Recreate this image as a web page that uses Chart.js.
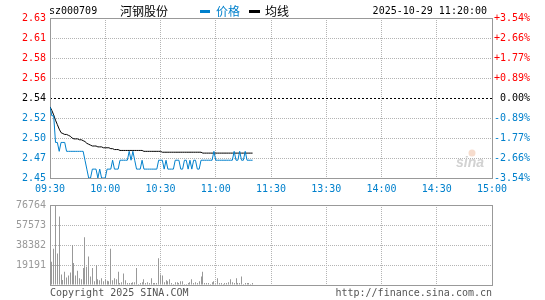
<!DOCTYPE html>
<html><head><meta charset="utf-8">
<script src="https://cdn.jsdelivr.net/npm/chart.js@4.4.0/dist/chart.umd.min.js"></script>
<style>
html,body{margin:0;padding:0;background:#fff;}
#wrap{position:relative;width:545px;height:300px;overflow:hidden;background:#fff;}
#c1{position:absolute;left:0;top:0;}
#c2{position:absolute;left:0;top:195px;}
</style></head><body>
<div id="wrap"><canvas id="c1" width="545" height="195"></canvas><canvas id="c2" width="545" height="105"></canvas></div>
<script>
const stockCode = "sz000709";
const stockName = "河钢股份";
const legendLabels = ["价格", "均线"];
const timestamp = "2025-10-29 11:20:00";
const footerLeft = "Copyright 2025 SINA.COM";
const footerRight = "http://finance.sina.com.cn";
const watermark = "sina";

const timeTickMinutes = [0, 30, 60, 90, 120, 150, 180, 210, 240];
const timeTickLabels = ["09:30", "10:00", "10:30", "11:00", "11:30", "13:30", "14:00", "14:30", "15:00"];
const priceTickValues = [2.45, 2.4725, 2.495, 2.5175, 2.54, 2.5625, 2.585, 2.6075, 2.63];
const priceTickLabels = ["2.45", "2.47", "2.50", "2.52", "2.54", "2.56", "2.58", "2.61", "2.63"];
const pctTickLabels = ["-3.54%", "-2.66%", "-1.77%", "-0.89%", " 0.00%", "+0.89%", "+1.77%", "+2.66%", "+3.54%"];
const volumeTickValues = [0, 19191, 38382, 57573, 76764];
const volumeTickLabels = ["", "19191", "38382", "57573", "76764"];

// one value per minute from 09:30 (minute 0) to 11:20 (minute 110)
const prices = [
  2.53, 2.52, 2.52, 2.49, 2.49, 2.48, 2.49, 2.49, 2.49, 2.48,
  2.48, 2.48, 2.48, 2.48, 2.48, 2.48, 2.48, 2.48, 2.48, 2.47,
  2.46, 2.45, 2.45, 2.46, 2.46, 2.46, 2.45, 2.46, 2.45, 2.45,
  2.45, 2.46, 2.46, 2.46, 2.47, 2.46, 2.46, 2.46, 2.47, 2.47,
  2.47, 2.47, 2.47, 2.48, 2.47, 2.48, 2.47, 2.46, 2.46, 2.46,
  2.47, 2.46, 2.46, 2.46, 2.46, 2.46, 2.46, 2.46, 2.46, 2.47,
  2.47, 2.47, 2.46, 2.47, 2.46, 2.46, 2.46, 2.46, 2.47, 2.47,
  2.47, 2.46, 2.46, 2.47, 2.47, 2.46, 2.47, 2.46, 2.47, 2.47,
  2.46, 2.46, 2.47, 2.47, 2.47, 2.47, 2.47, 2.47, 2.47, 2.48,
  2.47, 2.47, 2.47, 2.47, 2.47, 2.47, 2.47, 2.47, 2.47, 2.47,
  2.48, 2.47, 2.47, 2.48, 2.47, 2.47, 2.48, 2.47, 2.47, 2.47,
  2.47
];
const avgPrices = [
  2.530, 2.526, 2.521, 2.515, 2.510, 2.505, 2.501, 2.500, 2.499, 2.499,
  2.498, 2.497, 2.495, 2.494, 2.494, 2.494, 2.493, 2.493, 2.492, 2.491,
  2.489, 2.488, 2.487, 2.486, 2.486, 2.486, 2.485, 2.485, 2.485, 2.484,
  2.484, 2.484, 2.484, 2.483, 2.483, 2.482, 2.482, 2.482, 2.481, 2.481,
  2.481, 2.481, 2.481, 2.481, 2.481, 2.481, 2.481, 2.481, 2.481, 2.481,
  2.481, 2.480, 2.480, 2.480, 2.480, 2.480, 2.480, 2.480, 2.480, 2.480,
  2.480, 2.479, 2.479, 2.479, 2.479, 2.479, 2.479, 2.479, 2.479, 2.479,
  2.479, 2.479, 2.479, 2.479, 2.479, 2.479, 2.479, 2.479, 2.479, 2.479,
  2.479, 2.479, 2.479, 2.478, 2.478, 2.478, 2.478, 2.478, 2.478, 2.478,
  2.478, 2.478, 2.478, 2.478, 2.478, 2.478, 2.478, 2.478, 2.478, 2.478,
  2.478, 2.478, 2.478, 2.478, 2.478, 2.478, 2.478, 2.478, 2.478, 2.478,
  2.478
];
const volumes = [
  14600, 22200, 34700, 76764, 30200, 65800, 10000, 4900, 12800, 7300,
  9100, 11900, 38400, 21000, 9100, 13700, 6400, 5500, 16400, 45700,
  17400, 27400, 8200, 16400, 3700, 19200, 5500, 4600, 6400, 3700,
  5200, 4000, 3700, 34700, 4600, 6400, 5500, 12800, 1800, 2700,
  11000, 4600, 1800, 1800, 1800, 2700, 2700, 16400, 900, 1800,
  2700, 5500, 1800, 2700, 1800, 6400, 1800, 1800, 1800, 25600,
  10000, 9100, 2700, 4600, 3700, 5500, 1800, 900, 2700, 2700,
  1800, 3700, 3700, 900, 900, 1800, 2700, 5500, 1800, 2700,
  1800, 3700, 8200, 12800, 1800, 1800, 1800, 900, 2700, 3700,
  900, 6400, 1800, 1800, 900, 1800, 1800, 2700, 5500, 2700,
  1800, 6400, 1800, 1800, 8200, 900, 1800, 1800, 1800, 900,
  1800
];

const BLUE = '#0080cc', RED = '#ff0000', FRAME = '#999999', GRID = '#b4b4b4', VOL = '#999999';
const MONO = '"DejaVu Sans Mono", "Liberation Mono", monospace';
const CJK = '"Noto Sans CJK SC", "Noto Sans", sans-serif';

const framePlugin = {
  id: 'frame',
  beforeDatasetsDraw(chart) {
    const {ctx, chartArea: a} = chart;
    ctx.save();
    ctx.strokeStyle = FRAME; ctx.lineWidth = 1; ctx.setLineDash([]);
    ctx.strokeRect(Math.round(a.left) + 0.5, Math.round(a.top) + 0.5,
                   Math.round(a.right - a.left), Math.round(a.bottom - a.top));
    ctx.restore();
  }
};

// snap 1px volume bars to whole pixels so they stay crisp
const snapBarsPlugin = {
  id: 'snapBars',
  beforeDatasetsDraw(chart) {
    chart.getDatasetMeta(0).data.forEach(el => { el.x = Math.floor(el.x) + 0.5; });
  }
};

const headerPlugin = {
  id: 'header',
  beforeDatasetsDraw(chart) {
    const ctx = chart.ctx;
    ctx.save();
    ctx.fillStyle = '#f6dccd';
    ctx.beginPath(); ctx.arc(472, 153, 3.5, 0, Math.PI * 2); ctx.fill();
    ctx.fillStyle = '#d2d2d2';
    ctx.font = 'italic bold 14px "Liberation Sans", sans-serif';
    ctx.textAlign = 'center'; ctx.textBaseline = 'alphabetic';
    ctx.fillText(watermark, 470, 167);
    ctx.restore();
  },
  afterDraw(chart) {
    const ctx = chart.ctx;
    ctx.save();
    ctx.textBaseline = 'middle'; ctx.textAlign = 'left';
    ctx.font = '10px ' + MONO; ctx.fillStyle = '#000';
    ctx.fillText(stockCode, 49, 11);
    ctx.font = '12px ' + CJK;
    ctx.fillText(stockName, 120, 11);
    ctx.fillStyle = BLUE; ctx.fillRect(200, 10, 10, 3);
    ctx.fillText(legendLabels[0], 216, 11);
    ctx.fillStyle = '#000'; ctx.fillRect(249, 10, 11, 3);
    ctx.fillText(legendLabels[1], 265, 11);
    ctx.font = '10px ' + MONO; ctx.textAlign = 'right';
    ctx.fillText(timestamp, 487, 11);
    ctx.restore();
  }
};

const footerPlugin = {
  id: 'footer',
  afterDraw(chart) {
    const ctx = chart.ctx;
    ctx.save();
    ctx.font = '10px ' + MONO; ctx.fillStyle = '#555555'; ctx.textBaseline = 'alphabetic';
    ctx.textAlign = 'left'; ctx.fillText(footerLeft, 50, 101);
    ctx.textAlign = 'right'; ctx.fillText(footerRight, 492, 101);
    ctx.restore();
  }
};

const priceColor = (i) => i < 4 ? BLUE : (i === 4 ? '#000' : RED);
const setTicks = (vals) => (s) => { s.ticks = vals.map(v => ({value: v})); };

new Chart(document.getElementById('c1'), {
  type: 'line',
  data: {
    datasets: [
      {label: legendLabels[0], data: prices.map((p, i) => ({x: i, y: p})), borderColor: BLUE,
       borderWidth: 1, pointRadius: 0, tension: 0, order: 1},
      {label: legendLabels[1], data: avgPrices.map((p, i) => ({x: i, y: p})), borderColor: '#000',
       borderWidth: 1, pointRadius: 0, tension: 0, order: 2}
    ]
  },
  options: {
    responsive: false, animation: false, devicePixelRatio: 1,
    layout: {padding: {top: 18, left: 0, right: 0, bottom: 0}},
    plugins: {legend: {display: false}, tooltip: {enabled: false}, title: {display: false}},
    scales: {
      x: {
        type: 'linear', min: 0, max: 240, offset: false,
        afterBuildTicks: setTicks(timeTickMinutes),
        afterFit: (s) => { s.height = 17; },
        grid: {color: GRID, drawTicks: false, lineWidth: 1},
        border: {display: false, dash: [1, 1]},
        ticks: {autoSkip: false, maxRotation: 0, color: BLUE, padding: 5,
                font: {family: MONO, size: 10}, callback: (v, i) => timeTickLabels[i]}
      },
      y: {
        position: 'left', min: 2.45, max: 2.63,
        afterBuildTicks: setTicks(priceTickValues),
        afterFit: (s) => { s.width = 50; },
        grid: {color: (c) => c.index === 4 ? '#000' : GRID, drawTicks: false, lineWidth: 1},
        border: {display: false, dash: (c) => c.index === 4 ? [2, 2] : [1, 1]},
        ticks: {color: (c) => priceColor(c.index), padding: 4,
                font: {family: MONO, size: 10}, callback: (v, i) => priceTickLabels[i]}
      },
      y2: {
        position: 'right', min: 2.45, max: 2.63,
        afterBuildTicks: setTicks(priceTickValues),
        afterFit: (s) => { s.width = 53; },
        grid: {display: false, drawTicks: false},
        border: {display: false},
        ticks: {color: (c) => priceColor(c.index), padding: 2,
                font: {family: MONO, size: 10}, callback: (v, i) => pctTickLabels[i]}
      }
    }
  },
  plugins: [framePlugin, headerPlugin]
});

new Chart(document.getElementById('c2'), {
  type: 'bar',
  data: {
    datasets: [
      {label: 'volume', data: volumes.map((v, i) => ({x: i, y: v})), backgroundColor: VOL,
       borderWidth: 0, barThickness: 1, inflateAmount: 0}
    ]
  },
  options: {
    responsive: false, animation: false, devicePixelRatio: 1,
    layout: {padding: {top: 6, left: 0, right: 53, bottom: 0}},
    plugins: {legend: {display: false}, tooltip: {enabled: false}},
    scales: {
      x: {
        type: 'linear', min: 0, max: 240, offset: false,
        afterBuildTicks: setTicks(timeTickMinutes),
        afterFit: (s) => { s.height = 15; },
        grid: {color: GRID, drawTicks: false, lineWidth: 1, offset: false},
        border: {display: false, dash: [1, 1]},
        ticks: {display: false}
      },
      y: {
        position: 'left', min: 0, max: 76764,
        afterBuildTicks: setTicks(volumeTickValues),
        afterFit: (s) => { s.width = 50; },
        grid: {color: GRID, drawTicks: false, lineWidth: 1},
        border: {display: false, dash: [1, 1]},
        ticks: {color: '#999999', padding: 4, font: {family: MONO, size: 10},
                callback: (v, i) => volumeTickLabels[i]}
      }
    }
  },
  plugins: [framePlugin, snapBarsPlugin, footerPlugin]
});
</script>
</body></html>
